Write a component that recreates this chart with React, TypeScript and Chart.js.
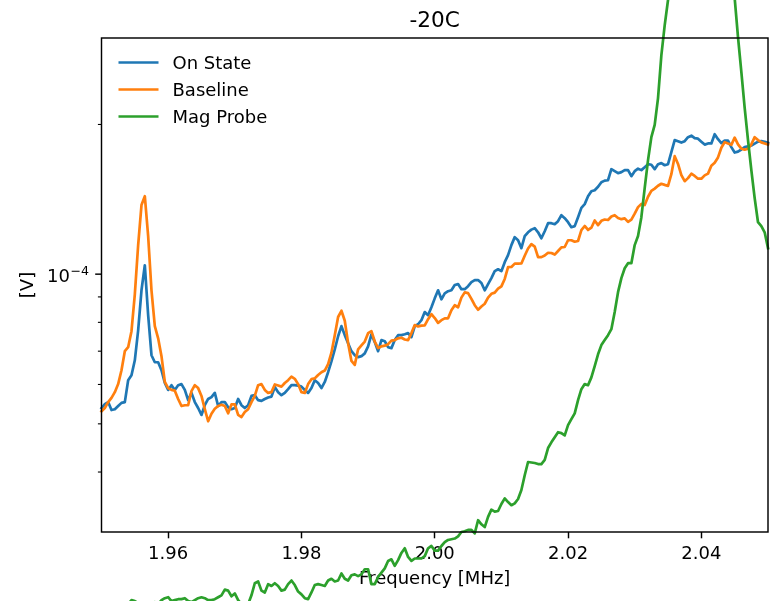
import React, { useEffect, useRef } from "react";
import { Chart, registerables } from "chart.js";

Chart.register(...registerables);

// ---- data (frequency in MHz, voltages in units of 1e-5 V) ----
const frequencyMHz = [
  1.9500, 1.9505, 1.9510, 1.9515, 1.9520, 1.9525, 1.9530, 1.9535, 1.9540, 1.9545,
  1.9550, 1.9555, 1.9560, 1.9565, 1.9570, 1.9575, 1.9580, 1.9585, 1.9590, 1.9595,
  1.9600, 1.9605, 1.9610, 1.9615, 1.9620, 1.9625, 1.9630, 1.9635, 1.9640, 1.9645,
  1.9650, 1.9655, 1.9660, 1.9665, 1.9670, 1.9675, 1.9680, 1.9685, 1.9690, 1.9695,
  1.9700, 1.9705, 1.9710, 1.9715, 1.9720, 1.9725, 1.9730, 1.9735, 1.9740, 1.9745,
  1.9750, 1.9755, 1.9760, 1.9765, 1.9770, 1.9775, 1.9780, 1.9785, 1.9790, 1.9795,
  1.9800, 1.9805, 1.9810, 1.9815, 1.9820, 1.9825, 1.9830, 1.9835, 1.9840, 1.9845,
  1.9850, 1.9855, 1.9860, 1.9865, 1.9870, 1.9875, 1.9880, 1.9885, 1.9890, 1.9895,
  1.9900, 1.9905, 1.9910, 1.9915, 1.9920, 1.9925, 1.9930, 1.9935, 1.9940, 1.9945,
  1.9950, 1.9955, 1.9960, 1.9965, 1.9970, 1.9975, 1.9980, 1.9985, 1.9990, 1.9995,
  2.0000, 2.0005, 2.0010, 2.0015, 2.0020, 2.0025, 2.0030, 2.0035, 2.0040, 2.0045,
  2.0050, 2.0055, 2.0060, 2.0065, 2.0070, 2.0075, 2.0080, 2.0085, 2.0090, 2.0095,
  2.0100, 2.0105, 2.0110, 2.0115, 2.0120, 2.0125, 2.0130, 2.0135, 2.0140, 2.0145,
  2.0150, 2.0155, 2.0160, 2.0165, 2.0170, 2.0175, 2.0180, 2.0185, 2.0190, 2.0195,
  2.0200, 2.0205, 2.0210, 2.0215, 2.0220, 2.0225, 2.0230, 2.0235, 2.0240, 2.0245,
  2.0250, 2.0255, 2.0260, 2.0265, 2.0270, 2.0275, 2.0280, 2.0285, 2.0290, 2.0295,
  2.0300, 2.0305, 2.0310, 2.0315, 2.0320, 2.0325, 2.0330, 2.0335, 2.0340, 2.0345,
  2.0350, 2.0355, 2.0360, 2.0365, 2.0370, 2.0375, 2.0380, 2.0385, 2.0390, 2.0395,
  2.0400, 2.0405, 2.0410, 2.0415, 2.0420, 2.0425, 2.0430, 2.0435, 2.0440, 2.0445,
  2.0450, 2.0455, 2.0460, 2.0465, 2.0470, 2.0475, 2.0480, 2.0485, 2.0490, 2.0495,
  2.0500, 2.0505,
];

const onStateE5 = [
  5.38, 5.48, 5.53, 5.33, 5.35, 5.43, 5.51, 5.53, 6.12, 6.26,
  6.71, 7.71, 9.28, 10.42, 8.27, 6.87, 6.65, 6.65, 6.41, 6.04,
  5.85, 5.98, 5.85, 5.98, 6.01, 5.85, 5.58, 5.77, 5.53, 5.38,
  5.21, 5.45, 5.61, 5.66, 5.77, 5.43, 5.53, 5.53, 5.40, 5.35,
  5.38, 5.61, 5.45, 5.38, 5.45, 5.69, 5.71, 5.58, 5.56, 5.61,
  5.65, 5.67, 5.93, 5.79, 5.71, 5.77, 5.87, 5.98, 5.98, 5.97,
  5.94, 5.85, 5.77, 5.90, 6.12, 6.04, 5.90, 6.07, 6.35, 6.68,
  7.06, 7.50, 7.86, 7.54, 7.26, 7.00, 6.87, 6.81, 6.84, 6.93,
  7.16, 7.57, 7.30, 7.00, 7.37, 7.33, 7.13, 7.10, 7.37, 7.54,
  7.54, 7.57, 7.61, 7.47, 7.86, 7.93, 8.08, 8.39, 8.27, 8.58,
  8.94, 9.28, 8.90, 9.15, 9.24, 9.28, 9.51, 9.55, 9.33, 9.33,
  9.46, 9.64, 9.73, 9.73, 9.60, 9.28, 9.55, 9.82, 10.14, 10.23,
  10.14, 10.57, 10.92, 11.44, 11.87, 11.70, 11.28, 11.92, 12.14, 12.29,
  12.37, 12.14, 11.81, 12.20, 12.66, 12.66, 12.60, 12.78, 13.14, 12.96,
  12.72, 12.43, 12.49, 13.02, 13.59, 13.83, 14.35, 14.68, 14.75, 14.99,
  15.31, 15.42, 15.45, 16.26, 16.11, 15.96, 16.04, 16.19, 16.19, 15.74,
  16.11, 16.30, 16.19, 16.41, 16.64, 16.60, 16.26, 16.64, 16.72, 16.56,
  16.64, 17.59, 18.60, 18.51, 18.39, 18.51, 18.86, 18.99, 18.77, 18.73,
  18.47, 18.22, 18.32, 18.32, 19.12, 18.68, 18.34, 18.56, 18.56, 18.01,
  17.56, 17.64, 17.81, 18.01, 18.07, 18.14, 18.30, 18.47, 18.51, 18.45,
  18.36, 18.30,
];

const baselineE5 = [
  5.30, 5.38, 5.53, 5.64, 5.79, 6.01, 6.41, 7.00, 7.13, 7.68,
  9.11, 11.44, 13.77, 14.35, 11.92, 9.28, 7.86, 7.43, 6.84, 6.07,
  5.90, 5.85, 5.83, 5.61, 5.43, 5.45, 5.45, 5.82, 5.98, 5.90,
  5.69, 5.35, 5.06, 5.24, 5.36, 5.43, 5.46, 5.43, 5.25, 5.47,
  5.47, 5.21, 5.16, 5.28, 5.35, 5.53, 5.69, 5.98, 6.01, 5.85,
  5.77, 5.79, 6.00, 5.97, 5.94, 6.04, 6.12, 6.22, 6.16, 6.01,
  5.79, 5.77, 6.01, 6.15, 6.17, 6.27, 6.35, 6.40, 6.59, 6.95,
  7.54, 8.20, 8.44, 8.06, 7.26, 6.69, 6.57, 7.06, 7.19, 7.32,
  7.61, 7.68, 7.32, 7.10, 7.16, 7.18, 7.23, 7.35, 7.37, 7.43,
  7.45, 7.39, 7.37, 7.61, 7.90, 7.85, 7.88, 7.89, 8.12, 8.31,
  8.16, 7.98, 8.08, 8.15, 8.15, 8.46, 8.66, 8.58, 8.97, 9.19,
  9.16, 8.92, 8.66, 8.48, 8.61, 8.72, 8.97, 9.13, 9.18, 9.35,
  9.45, 9.78, 10.33, 10.34, 10.50, 10.50, 10.51, 10.89, 11.26, 11.49,
  11.36, 10.82, 10.82, 10.90, 11.04, 11.03, 10.95, 11.13, 11.32, 11.34,
  11.70, 11.70, 11.62, 11.66, 12.26, 12.50, 12.27, 12.40, 12.82, 12.55,
  12.80, 12.88, 12.85, 13.06, 13.14, 12.97, 12.90, 12.95, 12.74, 12.87,
  13.23, 13.64, 13.84, 13.77, 14.31, 14.71, 14.86, 15.06, 15.20, 15.12,
  15.05, 15.89, 17.27, 16.66, 15.82, 15.38, 15.60, 15.92, 15.76, 15.56,
  15.56, 15.80, 15.93, 16.52, 16.75, 17.17, 17.96, 18.43, 18.31, 18.20,
  18.82, 18.24, 17.88, 17.79, 17.87, 18.24, 18.86, 18.61, 18.41, 18.32,
  18.23, 18.13,
];

const magProbeE5 = [
  2.09, 2.11, 2.07, 2.12, 2.10, 2.14, 2.11, 2.15, 2.17, 2.21,
  2.20, 2.18, 2.16, 2.18, 2.15, 2.17, 2.19, 2.17, 2.21, 2.23,
  2.24, 2.20, 2.21, 2.22, 2.22, 2.23, 2.20, 2.19, 2.21, 2.23,
  2.24, 2.23, 2.21, 2.21, 2.22, 2.24, 2.26, 2.32, 2.31, 2.25,
  2.28, 2.21, 2.17, 2.15, 2.17, 2.26, 2.39, 2.41, 2.31, 2.29,
  2.38, 2.36, 2.39, 2.36, 2.31, 2.32, 2.38, 2.42, 2.37, 2.30,
  2.27, 2.23, 2.22, 2.29, 2.37, 2.38, 2.37, 2.36, 2.42, 2.44,
  2.41, 2.42, 2.50, 2.44, 2.42, 2.48, 2.49, 2.47, 2.49, 2.55,
  2.55, 2.38, 2.38, 2.46, 2.51, 2.56, 2.65, 2.67, 2.59, 2.66,
  2.75, 2.81, 2.70, 2.65, 2.68, 2.68, 2.68, 2.71, 2.81, 2.84,
  2.78, 2.78, 2.84, 2.89, 2.92, 2.93, 2.94, 2.97, 3.03, 3.04,
  3.06, 3.06, 3.01, 3.20, 3.14, 3.10, 3.25, 3.36, 3.33, 3.34,
  3.45, 3.54, 3.48, 3.43, 3.46, 3.53, 3.68, 3.94, 4.19, 4.18,
  4.17, 4.15, 4.15, 4.23, 4.47, 4.59, 4.70, 4.81, 4.79, 4.74,
  4.97, 5.11, 5.25, 5.58, 5.87, 6.01, 5.98, 6.20, 6.53, 6.90,
  7.20, 7.37, 7.54, 7.75, 8.39, 9.20, 9.82, 10.28, 10.52, 10.52,
  11.44, 11.93, 13.02, 14.89, 16.96, 18.86, 19.96, 22.60, 27.55, 31.66,
  35.6, 41.8, 50.4, 60.6, 71.3, 83.8, 96.4, 108.2, 118.7, 127.2,
  133.3, 135.1, 131.4, 122.9, 110.8, 94.2, 78.0, 63.4, 51.6, 42.7,
  35.9, 29.98, 25.51, 21.59, 18.60, 16.19, 14.22, 12.72, 12.49, 12.14,
  11.28, 10.72,
];

const VOLT_UNIT = 1e-5;
const seriesLabels = ["On State", "Baseline", "Mag Probe"];
const seriesColors = ["#1f77b4", "#ff7f0e", "#2ca02c"];
const xTickValues = [1.96, 1.98, 2.0, 2.02, 2.04];
const yMajorTickValues = [1e-4];
const yMinorTickValues = [4e-5, 5e-5, 6e-5, 7e-5, 8e-5, 9e-5, 2e-4];
const titleText = "-20C";
const xAxisLabel = "Frequency [MHz]";
const yAxisLabel = "[V]";

const FONT = "'DejaVu Sans', sans-serif";

const mplPlugin = {
  id: "mplDecor",
  afterDatasetsDraw(chart: any) {
    const { ctx, chartArea: a, scales } = chart;
    const y = scales.y;
    ctx.save();
    ctx.strokeStyle = "#000";
    ctx.fillStyle = "#000";
    // y minor ticks
    ctx.lineWidth = 1.1;
    for (const v of yMinorTickValues) {
      const p = y.getPixelForValue(v);
      ctx.beginPath();
      ctx.moveTo(a.left - 3.6, p);
      ctx.lineTo(a.left, p);
      ctx.stroke();
    }
    // y major ticks + label
    ctx.lineWidth = 1.45;
    for (const v of yMajorTickValues) {
      const p = y.getPixelForValue(v);
      ctx.beginPath();
      ctx.moveTo(a.left - 6.3, p);
      ctx.lineTo(a.left, p);
      ctx.stroke();
      const exp = Math.round(Math.log10(v));
      const sup = "\u2212" + Math.abs(exp);
      const right = a.left - 12.4;
      ctx.font = "12.6px " + FONT;
      const supW = ctx.measureText(sup).width;
      ctx.textAlign = "left";
      ctx.textBaseline = "alphabetic";
      ctx.fillText(sup, right - supW, p + 1);
      ctx.font = "18px " + FONT;
      ctx.textAlign = "right";
      ctx.fillText("10", right - supW - 0.6, p + 7.7);
    }
    // frame
    ctx.lineWidth = 1.45;
    ctx.strokeRect(a.left, a.top, a.right - a.left, a.bottom - a.top);
    // title
    ctx.font = "21.6px " + FONT;
    ctx.textAlign = "center";
    ctx.textBaseline = "alphabetic";
    ctx.fillText(titleText, (a.left + a.right) / 2, a.top - 10.8);
    // legend
    ctx.font = "18px " + FONT;
    ctx.textAlign = "left";
    seriesLabels.forEach((label, i) => {
      const ly = a.top + 24.5 + 27 * i;
      ctx.strokeStyle = seriesColors[i];
      ctx.lineWidth = 2.7;
      ctx.lineCap = "butt";
      ctx.beginPath();
      ctx.moveTo(a.left + 17, ly);
      ctx.lineTo(a.left + 57, ly);
      ctx.stroke();
      ctx.fillStyle = "#000";
      ctx.fillText(label, a.left + 71, ly + 6.6);
    });
    ctx.restore();
  },
};

export default function App() {
  const canvasRef = useRef<HTMLCanvasElement>(null);

  useEffect(() => {
    document.body.style.margin = "0";
    Chart.defaults.font.family = FONT;
    const seriesValues = [onStateE5, baselineE5, magProbeE5];
    const datasets = seriesValues.map((vals, i) => ({
      label: seriesLabels[i],
      data: frequencyMHz.map((f, j) => ({ x: f, y: vals[j] * VOLT_UNIT })),
      borderColor: seriesColors[i],
      backgroundColor: seriesColors[i],
      borderWidth: 2.7,
      pointRadius: 0,
      tension: 0,
      fill: false,
      clip: false as any,
      borderJoinStyle: "round" as const,
      borderCapStyle: "square" as const,
      order: 3 - i,
    }));

    const chart = new Chart(canvasRef.current as HTMLCanvasElement, {
      type: "line",
      data: { datasets },
      options: {
        responsive: false,
        maintainAspectRatio: false,
        devicePixelRatio: 1,
        animation: false,
        layout: { padding: { left: 0, right: 16, top: 38, bottom: 0 } },
        plugins: {
          legend: { display: false },
          tooltip: { enabled: false },
          title: { display: false },
        },
        scales: {
          x: {
            type: "linear",
            min: 1.95,
            max: 2.05,
            afterBuildTicks: (s: any) => {
              s.ticks = xTickValues.map((v) => ({ value: v }));
            },
            afterFit: (s: any) => {
              s.height = 69;
            },
            ticks: {
              color: "#000",
              font: { family: FONT, size: 18 },
              padding: 5.5,
              maxRotation: 0,
              autoSkip: false,
              callback: (v: any) => Number(v).toFixed(2),
            },
            grid: {
              display: true,
              drawOnChartArea: false,
              drawTicks: true,
              tickLength: 6.3,
              tickWidth: 1.45,
              tickColor: "#000",
            },
            border: { display: false },
            title: {
              display: true,
              text: xAxisLabel,
              color: "#000",
              font: { family: FONT, size: 18 },
              padding: { top: 0, bottom: 11.2 },
            },
          },
          y: {
            type: "logarithmic",
            min: 3.03e-5,
            max: 2.985e-4,
            afterBuildTicks: (s: any) => {
              s.ticks = [...yMinorTickValues, ...yMajorTickValues]
                .sort((p, q) => p - q)
                .map((v) => ({ value: v }));
            },
            afterFit: (s: any) => {
              s.width = 101.5;
            },
            ticks: { display: false },
            grid: { display: false },
            border: { display: false },
            title: {
              display: true,
              text: yAxisLabel,
              color: "#000",
              font: { family: FONT, size: 18 },
              padding: { top: 17.7, bottom: 0 },
            },
          },
        },
      },
      plugins: [mplPlugin],
    });
    return () => chart.destroy();
  }, []);

  return (
    <div
      style={{
        position: "fixed",
        left: 0,
        top: 0,
        width: 784,
        height: 601,
        background: "#fff",
      }}
    >
      <canvas
        ref={canvasRef}
        width={784}
        height={601}
        style={{ width: 784, height: 601, display: "block" }}
      />
    </div>
  );
}
